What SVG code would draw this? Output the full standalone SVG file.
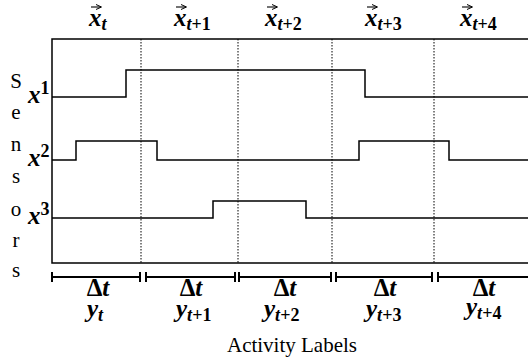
<svg xmlns="http://www.w3.org/2000/svg" width="528" height="361" viewBox="0 0 528 361">
<defs>
<style>
.frame{fill:none;stroke:#000;stroke-width:1.5}
.sig{fill:none;stroke:#000;stroke-width:1.5}
.dot{fill:none;stroke:#000;stroke-width:1;stroke-dasharray:1.5,1.5}
.bar{fill:none;stroke:#000;stroke-width:2}
.arr{fill:none;stroke:#000;stroke-width:1.1}
.m{font-weight:bold;font-style:italic;font-size:25px;fill:#000}
.s{font-size:18px}
.u{font-style:normal}
.r{font-size:21px;fill:#000}
</style>
<marker id="ah" viewBox="0 0 6 6" refX="5" refY="3" markerWidth="6" markerHeight="6" markerUnits="userSpaceOnUse" orient="auto">
<path d="M0,0.5 L5.5,3 L0,5.5" fill="none" stroke="#000" stroke-width="1"/>
</marker>
</defs>
<rect width="528" height="361" fill="#fff"/>

<g id="frame">
<path class="frame" d="M528,39 H52 V263 H528"/>
</g>

<g id="connectors">
<path class="dot" d="M141,39 V263 M238,39 V263 M332,39 V263 M434,39 V263"/>
<path id="sig-x1" class="sig" d="M52,97 H126 V70 H365 V97 H528"/>
<path id="sig-x2" class="sig" d="M52,160 H76 V141 H157 V160 H359 V141 H449 V160 H528"/>
<path id="sig-x3" class="sig" d="M52,218 H213 V201 H306 V218 H528"/>
<path class="bar" d="M52,277 H140 M146,277 H235 M239,277 H331 M336,277 H432 M438,277 H528"/>
<path class="bar" d="M52,272 V282 M140,272 V282 M146,272 V282 M235,272 V282 M239,272 V282 M331,272 V282 M336,272 V282 M432,272 V282 M438,272 V282"/>
</g>

<g font-family="'Liberation Serif', 'DejaVu Serif', serif">
<g id="header">
<g id="xt">
<path class="arr" d="M91,7 H101" marker-end="url(#ah)"/>
<text class="m" x="89" y="26">x<tspan class="s" dy="4">t</tspan></text>
</g>
<g id="xt1">
<path class="arr" d="M176,7 H186" marker-end="url(#ah)"/>
<text class="m" x="174" y="26">x<tspan class="s" dy="4">t</tspan><tspan class="s u">+1</tspan></text>
</g>
<g id="xt2">
<path class="arr" d="M267,7 H277" marker-end="url(#ah)"/>
<text class="m" x="265" y="26">x<tspan class="s" dy="4">t</tspan><tspan class="s u">+2</tspan></text>
</g>
<g id="xt3">
<path class="arr" d="M367,7 H377" marker-end="url(#ah)"/>
<text class="m" x="365" y="26">x<tspan class="s" dy="4">t</tspan><tspan class="s u">+3</tspan></text>
</g>
<g id="xt4">
<path class="arr" d="M462,7 H472" marker-end="url(#ah)"/>
<text class="m" x="460" y="26">x<tspan class="s" dy="4">t</tspan><tspan class="s u">+4</tspan></text>
</g>
</g>

<g id="sensors">
<text class="r" x="16" y="88" text-anchor="middle">S</text>
<text class="r" x="16" y="119" text-anchor="middle">e</text>
<text class="r" x="16" y="151" text-anchor="middle">n</text>
<text class="r" x="16" y="183" text-anchor="middle">s</text>
<text class="r" x="16" y="216" text-anchor="middle">o</text>
<text class="r" x="16" y="247" text-anchor="middle">r</text>
<text class="r" x="16" y="277" text-anchor="middle">s</text>
</g>

<g id="x1"><text class="m" x="28" y="103">x<tspan class="s u" dy="-9">1</tspan></text></g>
<g id="x2"><text class="m" x="28" y="166">x<tspan class="s u" dy="-9">2</tspan></text></g>
<g id="x3"><text class="m" x="28" y="224">x<tspan class="s u" dy="-9">3</tspan></text></g>

<g id="intervals">
<g id="yt"><text class="m" x="98" y="296" text-anchor="middle"><tspan class="u">Δ</tspan>t</text>
<text class="m" x="87" y="317">y<tspan class="s" dy="4">t</tspan></text></g>
<g id="yt1"><text class="m" x="191" y="296" text-anchor="middle"><tspan class="u">Δ</tspan>t</text>
<text class="m" x="176" y="317">y<tspan class="s" dy="4">t</tspan><tspan class="s u">+1</tspan></text></g>
<g id="yt2"><text class="m" x="285" y="296" text-anchor="middle"><tspan class="u">Δ</tspan>t</text>
<text class="m" x="264" y="317">y<tspan class="s" dy="4">t</tspan><tspan class="s u">+2</tspan></text></g>
<g id="yt3"><text class="m" x="385" y="296" text-anchor="middle"><tspan class="u">Δ</tspan>t</text>
<text class="m" x="366" y="317">y<tspan class="s" dy="4">t</tspan><tspan class="s u">+3</tspan></text></g>
<g id="yt4"><text class="m" x="484" y="296" text-anchor="middle"><tspan class="u">Δ</tspan>t</text>
<text class="m" x="466" y="315">y<tspan class="s" dy="4">t</tspan><tspan class="s u">+4</tspan></text></g>
</g>

<g id="activity-labels"><text class="r" x="292" y="352" text-anchor="middle">Activity Labels</text></g>
</g>
</svg>
